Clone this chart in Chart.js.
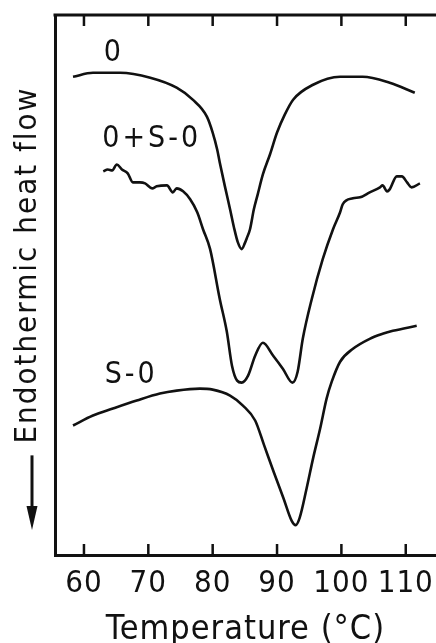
<!DOCTYPE html>
<html>
<head>
<meta charset="utf-8">
<script src="https://cdn.jsdelivr.net/npm/chart.js@4.4.0/dist/chart.umd.min.js"></script>
<style>
  html, body { margin: 0; padding: 0; background: #fff; }
  #dsc-chart { display: block; }
</style>
</head>
<body>
<canvas id="dsc-chart" width="436" height="643"></canvas>
<script>
// DSC traces: temperature (°C) and heat flow (arbitrary units, endotherm down)
const temp0 = [58.3, 61.4, 65.6, 70.3, 74.4, 76.9, 79.1, 80.0, 80.7, 81.1, 81.9, 82.7, 83.3, 83.9, 84.5,
  85.0, 85.3, 85.8, 86.4, 87.0, 87.8, 88.9, 90.0, 91.2, 92.5, 95.6, 99.8, 103.3, 107.5, 111.4];
const flow0 = [480, 484, 484, 479, 469, 457, 440, 424, 407, 394, 370, 347, 329, 314, 307,
  313, 318, 327, 347, 362, 382, 402, 424, 442, 457, 472, 480, 480, 474, 464];

const tempMix = [63.0, 63.7, 64.4, 65.1, 65.9, 66.8, 67.6, 68.7, 69.5, 70.6, 71.3, 72.9, 73.8, 74.4, 75.4,
  76.5, 77.6, 78.5, 79.6, 81.1, 82.2, 83.0, 83.8, 84.5, 85.5, 86.6, 87.8, 89.4, 90.9, 92.4,
  93.2, 94.0, 95.4, 97.1, 98.7, 99.8, 100.2, 101.8, 102.9, 104.4, 106.0, 106.4, 107.1, 107.5, 108.6,
  109.4, 110.2, 110.9, 112.2];
const flowMix = [385, 387, 386, 392, 387, 383, 374, 374, 373, 368, 370, 371, 364, 368, 365,
  357, 344, 327, 307, 257, 224, 190, 175, 173, 180, 200, 213, 200, 187, 173,
  184, 217, 257, 297, 327, 344, 352, 358, 359, 364, 369, 371, 365, 367, 380,
  380, 374, 369, 373];

const tempS0 = [58.3, 61.4, 64.5, 68.2, 71.8, 74.4, 78.0, 80.0, 82.7, 84.7, 86.6, 88.0, 89.5, 91.0, 92.3,
  92.9, 93.5, 94.6, 95.6, 96.7, 97.7, 98.5, 99.8, 101.8, 104.4, 106.4, 108.0, 111.7];
const flowS0 = [130, 140, 147, 155, 162, 165, 167, 166, 160, 150, 135, 110, 83, 57, 34,
  30, 37, 67, 97, 127, 157, 174, 194, 207, 217, 222, 225, 230];

const xTicks = [60, 70, 80, 90, 100, 110];

const ink = '#111';
const fontFamily = "'Liberation Sans Narrow', 'DejaVu Sans Condensed', 'DejaVu Sans', sans-serif";

// labels written next to each trace (temperature, heat flow)
const curveLabels = [
  { text: '0', t: 64.4, v: 504 },
  { text: '0+S-0', t: 70.3, v: 417 },
  { text: 'S-0', t: 67.1, v: 180 }
];

function toPoints(xs, ys) {
  return xs.map((t, i) => ({ x: t, y: ys[i] }));
}

function trace(label, xs, ys) {
  return {
    label: label,
    data: toPoints(xs, ys),
    borderColor: ink,
    borderWidth: 2.6,
    pointRadius: 0,
    fill: false,
    cubicInterpolationMode: 'monotone'
  };
}

const dscDecor = {
  id: 'dscDecor',
  beforeDraw(chart) {
    chart.ctx.letterSpacing = '1px';
  },
  afterDraw(chart) {
    const ctx = chart.ctx;
    const area = chart.chartArea;
    const x = chart.scales.x;
    const y = chart.scales.y;
    ctx.save();
    ctx.strokeStyle = ink;
    ctx.fillStyle = ink;

    // top frame line
    ctx.lineWidth = 3;
    ctx.beginPath();
    ctx.moveTo(area.left - 1.5, area.top);
    ctx.lineTo(area.right, area.top);
    ctx.stroke();

    // ticks point inward, top and bottom
    ctx.lineWidth = 2.5;
    xTicks.forEach(function (t) {
      const px = x.getPixelForValue(t);
      ctx.beginPath();
      ctx.moveTo(px, area.top);
      ctx.lineTo(px, area.top + 11);
      ctx.moveTo(px, area.bottom);
      ctx.lineTo(px, area.bottom - 11);
      ctx.stroke();
    });

    // trace names
    ctx.font = '30px ' + fontFamily;
    ctx.letterSpacing = '3px';
    ctx.textAlign = 'center';
    ctx.textBaseline = 'middle';
    curveLabels.forEach(function (l) {
      ctx.fillText(l.text, x.getPixelForValue(l.t) + 1.5, y.getPixelForValue(l.v));
    });

    // y axis title, rotated
    ctx.save();
    ctx.translate(area.left - 27, y.getPixelForValue(290));
    ctx.rotate(-Math.PI / 2);
    ctx.font = '31px ' + fontFamily;
    ctx.letterSpacing = '2px';
    ctx.fillText('Endothermic heat flow', 1, 0);
    ctx.restore();

    // arrow: endotherm direction
    const ax = area.left - 23;
    const top = y.getPixelForValue(100);
    const tip = y.getPixelForValue(25);
    ctx.lineWidth = 3;
    ctx.beginPath();
    ctx.moveTo(ax, top);
    ctx.lineTo(ax, tip - 20);
    ctx.stroke();
    ctx.beginPath();
    ctx.moveTo(ax - 5.5, tip - 24);
    ctx.lineTo(ax + 5.5, tip - 24);
    ctx.lineTo(ax, tip);
    ctx.closePath();
    ctx.fill();
    ctx.restore();
  }
};

new Chart(document.getElementById('dsc-chart'), {
  type: 'line',
  data: {
    datasets: [
      trace('0', temp0, flow0),
      trace('0+S-0', tempMix, flowMix),
      trace('S-0', tempS0, flowS0)
    ]
  },
  plugins: [dscDecor],
  options: {
    responsive: false,
    animation: false,
    layout: { autoPadding: false, padding: { left: 55, top: 15, right: 0, bottom: 0 } },
    plugins: {
      legend: { display: false },
      tooltip: { enabled: false }
    },
    scales: {
      x: {
        type: 'linear',
        min: 55.5,
        max: 114.7,
        afterBuildTicks: function (axis) {
          axis.ticks = xTicks.map(function (v) { return { value: v }; });
        },
        afterFit: function (axis) {
          // frame runs to the right edge, let the last label overhang
          axis.paddingRight = 0;
          axis.paddingLeft = 0;
        },
        grid: { display: false, drawTicks: false },
        border: { display: true, color: ink, width: 3 },
        ticks: {
          color: ink,
          padding: 13,
          maxRotation: 0,
          font: { family: fontFamily, size: 31, lineHeight: 1 }
        },
        title: {
          display: true,
          text: 'Temperature (°C)',
          color: ink,
          padding: { top: 1, bottom: -4 },
          font: { family: fontFamily, size: 34, lineHeight: 1 }
        }
      },
      y: {
        min: 0,
        max: 542,
        grid: { display: false, drawTicks: false },
        border: { display: true, color: ink, width: 3 },
        ticks: { display: false }
      }
    }
  }
});
</script>
</body>
</html>
